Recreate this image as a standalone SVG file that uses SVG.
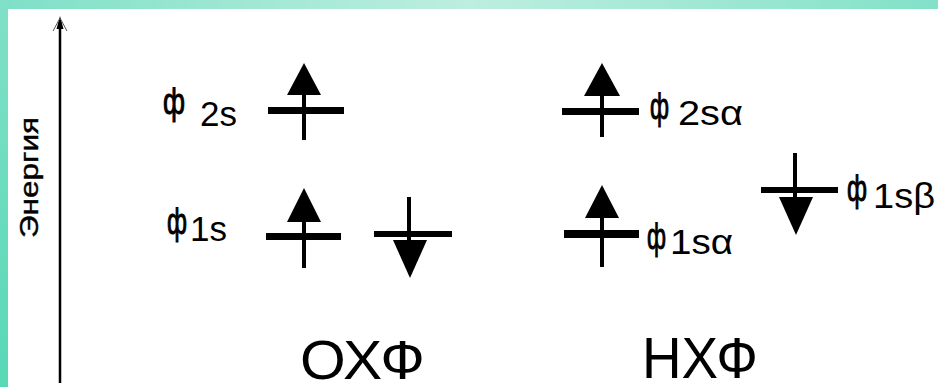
<svg xmlns="http://www.w3.org/2000/svg" width="938" height="387" viewBox="0 0 938 387">
<defs>
<linearGradient id="gTop" x1="0" y1="0" x2="1" y2="0">
<stop offset="0" stop-color="#7fe0c7"/>
<stop offset="0.5" stop-color="#bdeedf"/>
<stop offset="1" stop-color="#82e1c8"/>
</linearGradient>
<linearGradient id="gLeft" x1="0" y1="0" x2="0" y2="1">
<stop offset="0" stop-color="#80e0c8"/>
<stop offset="1" stop-color="#58d8b6"/>
</linearGradient>
</defs>
<style>
.lvl{fill:#000}
.stem{stroke:#000;stroke-width:4}
.head{fill:#000}
.lbl{font-family:"Liberation Sans",Arial,sans-serif;font-size:35px;fill:#000}
.phi{font-family:"Liberation Sans",Arial,sans-serif;font-size:37px;fill:#000;stroke:#000;stroke-width:1}
.big{font-family:"Liberation Sans",Arial,sans-serif;fill:#000}
</style>
<rect x="0" y="0" width="938" height="387" fill="#fff"/>
<rect x="0" y="0" width="938" height="9" fill="url(#gTop)"/>
<rect x="0" y="0" width="8" height="387" fill="url(#gLeft)"/>

<g id="connectors">
<g id="energy-axis">
<line x1="60" y1="22" x2="60" y2="383" stroke="#000" stroke-width="2.5"/>
<polygon points="60,16 56.5,29 63.5,29" fill="#000"/>
<line x1="60" y1="18" x2="53" y2="31" stroke="#555" stroke-width="1"/>
<line x1="60" y1="18" x2="67" y2="31" stroke="#555" stroke-width="1"/>
</g>
</g>

<g id="axis-label">
<text class="big" font-size="25" stroke="#000" stroke-width="0.4" text-anchor="middle" transform="translate(38,177.5) rotate(-90)" textLength="121" lengthAdjust="spacingAndGlyphs">Энергия</text>
</g>

<g id="ohf-2s">
<rect class="lvl" x="268" y="107" width="76" height="7"/>
<line class="stem" x1="304" y1="90" x2="304" y2="140"/>
<polygon class="head" points="304,63 287,95 321,95"/>
<text class="phi" x="163" y="114" textLength="22" lengthAdjust="spacingAndGlyphs">ф</text>
<text class="lbl" x="200" y="126">2s</text>
</g>

<g id="ohf-1s-up">
<rect class="lvl" x="266" y="233" width="75" height="7"/>
<line class="stem" x1="304" y1="217" x2="304" y2="268"/>
<polygon class="head" points="304,188 287,222 321,222"/>
<text class="phi" x="167" y="234" textLength="20" lengthAdjust="spacingAndGlyphs">ф</text>
<text class="lbl" x="190" y="241">1s</text>
</g>

<g id="ohf-1s-down">
<rect class="lvl" x="374" y="231" width="78" height="6"/>
<line class="stem" x1="409" y1="197" x2="409" y2="245"/>
<polygon class="head" points="393,240 427,240 410,278"/>
</g>

<g id="nhf-2s-alpha">
<rect class="lvl" x="562" y="108" width="77" height="7"/>
<line class="stem" x1="602" y1="90" x2="602" y2="137"/>
<polygon class="head" points="602,63 584,96 620,96"/>
<text class="phi" x="650" y="119" textLength="19" lengthAdjust="spacingAndGlyphs">ф</text>
<text class="lbl" x="678" y="125" textLength="65" lengthAdjust="spacingAndGlyphs">2sα</text>
</g>

<g id="nhf-1s-alpha">
<rect class="lvl" x="564" y="230" width="75" height="8"/>
<line class="stem" x1="602" y1="212" x2="602" y2="267"/>
<polygon class="head" points="602,185 585,218 619,218"/>
<text class="phi" x="647" y="249" textLength="19" lengthAdjust="spacingAndGlyphs">ф</text>
<text class="lbl" x="670" y="254" textLength="63" lengthAdjust="spacingAndGlyphs">1sα</text>
</g>

<g id="nhf-1s-beta">
<rect class="lvl" x="761" y="187" width="77" height="6"/>
<line class="stem" x1="795" y1="153" x2="795" y2="202"/>
<polygon class="head" points="779,197 813,197 796,235"/>
<text class="phi" x="847" y="201" textLength="20" lengthAdjust="spacingAndGlyphs">ф</text>
<text class="lbl" x="873" y="208" textLength="62" lengthAdjust="spacingAndGlyphs">1sβ</text>
</g>

<g id="ohf-title">
<text class="big" font-size="55" x="300" y="379" textLength="125" lengthAdjust="spacingAndGlyphs">ОХФ</text>
</g>
<g id="nhf-title">
<text class="big" font-size="58" x="642" y="378" textLength="116" lengthAdjust="spacingAndGlyphs">НХФ</text>
</g>
</svg>
